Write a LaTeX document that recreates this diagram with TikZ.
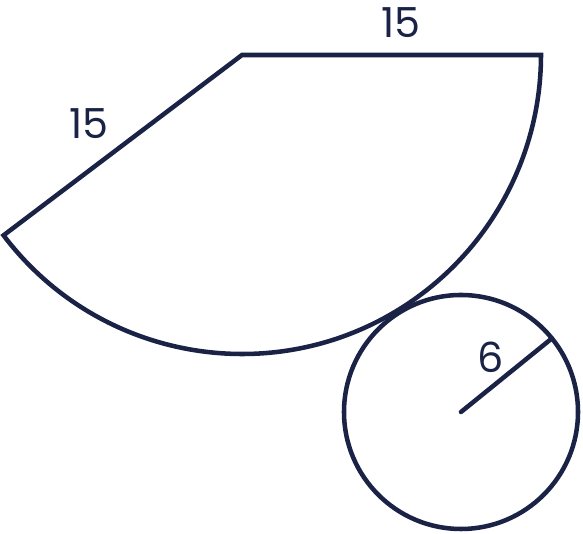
\documentclass[tikz,border=0pt]{standalone}
\usepackage{fontspec}
\setmainfont{Poppins}
\usetikzlibrary{calc}
\definecolor{navy}{HTML}{1A2346}
\begin{document}
\begin{tikzpicture}[x=0.75pt,y=0.75pt,
  outline/.style={draw=navy,line width=3.4pt,line join=miter},
  lbl/.style={text=navy,font=\fontsize{31}{36}\selectfont,inner sep=0pt}]
\useasboundingbox (0,0) rectangle (583,534);
\coordinate (C) at (242,479);
\coordinate (B) at (541,479);
\coordinate (A) at ($(C)+(217.1:299)$);
\coordinate (O) at (461,122);
\coordinate (R) at ($(O)+(39:117)$);
\draw[outline] (B) -- (C) -- (A) arc[start angle=217.1,end angle=360,radius=299] -- cycle;
\draw[outline] (O) circle[radius=117];
\draw[outline,line cap=round] (O) -- (R);
\node[lbl] (t1) at (401,511) {15};
\node[lbl] (t2) at (89,410) {15};
\node[lbl] (t3) at (491,177) {6};
\end{tikzpicture}
\end{document}
